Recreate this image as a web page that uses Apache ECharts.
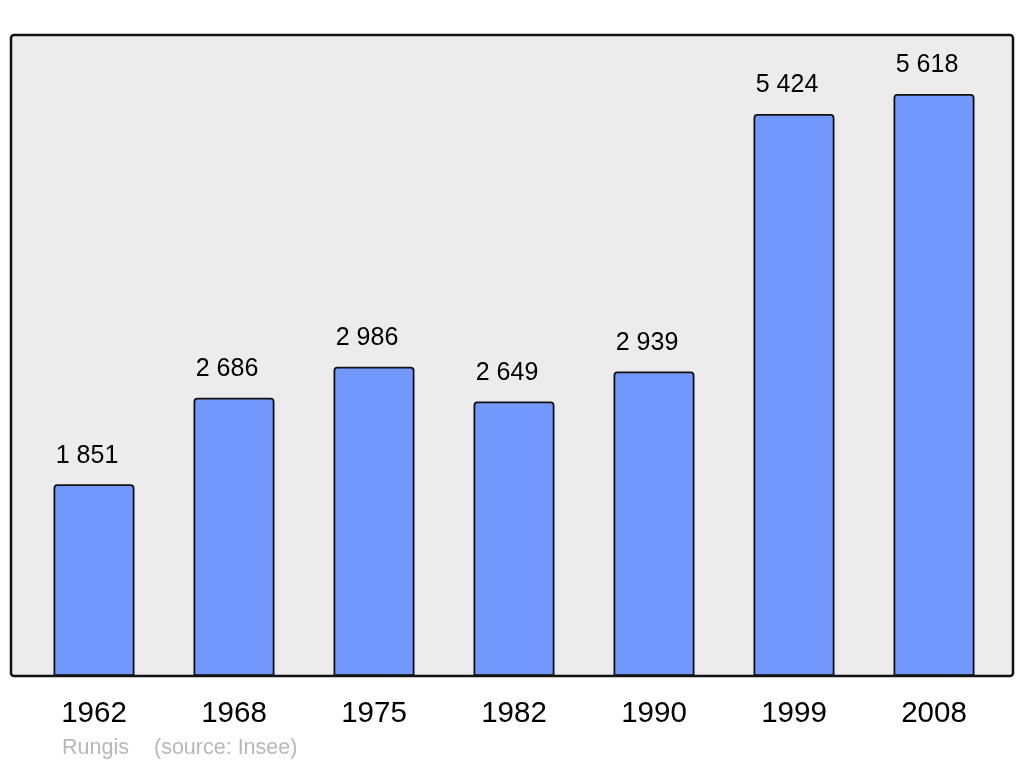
<!DOCTYPE html>
<html>
<head>
<meta charset="utf-8">
<script src="https://cdn.jsdelivr.net/npm/echarts@6/dist/echarts.min.js"></script>
<style>
html,body{margin:0;padding:0;background:#fff;}
#c{width:1024px;height:765px;}
</style>
</head>
<body>
<div id="c"></div>
<script>
var years = ['1962','1968','1975','1982','1990','1999','2008'];
var population = [1851, 2686, 2986, 2649, 2939, 5424, 5618];
var sourceName = 'Rungis';
var sourceNote = '(source: Insee)';

var chart = echarts.init(document.getElementById('c'), null, {renderer:'canvas'});
function fmt(v){ return String(v).replace(/\B(?=(\d{3})+(?!\d))/g, ' '); }
chart.setOption({
  animation:false,
  backgroundColor:'#ffffff',
  grid:{left:24, right:20, top:54.4, bottom:89},
  xAxis:{
    type:'category', data:years,
    axisLine:{show:false}, axisTick:{show:false},
    axisLabel:{color:'#000', fontFamily:'Liberation Sans', fontSize:29.5, margin:23}
  },
  yAxis:{
    type:'value', min:0, max:6000,
    show:false, splitLine:{show:false}
  },
  graphic:[
    {type:'rect', z:-10, shape:{x:11, y:35, width:1002, height:641, r:3},
     style:{fill:'#ececec', stroke:null}},
    {type:'rect', z:100, shape:{x:11, y:35, width:1002, height:641, r:3},
     style:{fill:null, stroke:'#111', lineWidth:2.5}},
    {type:'text', left:62, top:737, style:{text:sourceName, fill:'#b8b8b8', font:'21.5px "Liberation Sans"'}},
    {type:'text', left:154, top:737, style:{text:sourceNote, fill:'#b8b8b8', font:'21.5px "Liberation Sans"'}}
  ],
  series:[{
    type:'bar', data:population, barWidth:81,
    itemStyle:{color:'#7399ff', borderColor:'#111', borderWidth:1.8, borderRadius:[3,3,0,0]},
    label:{show:true, position:'top', distance:16, offset:[-7,0], color:'#000', fontFamily:'Liberation Sans', fontSize:25,
      formatter:function(p){return fmt(p.value);}}
  }]
});
</script>
</body>
</html>
